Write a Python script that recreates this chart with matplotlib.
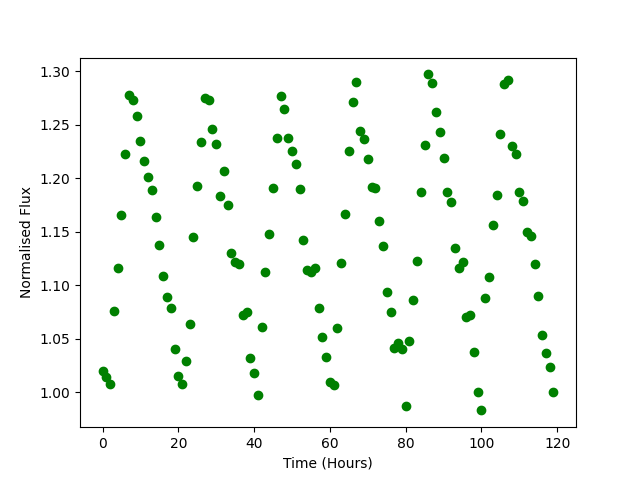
import matplotlib
matplotlib.use("Agg")
import matplotlib.pyplot as plt
import numpy as np

time_hours = np.arange(120)
flux = [
    1.020, 1.014, 1.008, 1.076, 1.116, 1.166, 1.223, 1.278, 1.273, 1.258,
    1.235, 1.216, 1.201, 1.189, 1.164, 1.138, 1.109, 1.089, 1.079, 1.040,
    1.015, 1.008, 1.029, 1.064, 1.145, 1.193, 1.234, 1.275, 1.273, 1.246,
    1.232, 1.183, 1.207, 1.175, 1.130, 1.122, 1.120, 1.072, 1.075, 1.032,
    1.018, 0.997, 1.061, 1.112, 1.148, 1.191, 1.238, 1.277, 1.265, 1.238,
    1.225, 1.213, 1.190, 1.142, 1.114, 1.112, 1.116, 1.079, 1.052, 1.033,
    1.010, 1.007, 1.060, 1.121, 1.167, 1.225, 1.271, 1.290, 1.244, 1.237,
    1.218, 1.192, 1.191, 1.160, 1.137, 1.094, 1.075, 1.041, 1.046, 1.040,
    0.987, 1.048, 1.086, 1.123, 1.187, 1.231, 1.297, 1.289, 1.262, 1.243,
    1.219, 1.187, 1.178, 1.135, 1.116, 1.122, 1.070, 1.072, 1.038, 1.000,
    0.983, 1.088, 1.108, 1.156, 1.184, 1.241, 1.288, 1.292, 1.230, 1.223,
    1.187, 1.179, 1.150, 1.146, 1.120, 1.090, 1.053, 1.037, 1.024, 1.000,
]

fig, ax = plt.subplots(figsize=(6.4, 4.8), dpi=100)
ax.plot(time_hours, flux, 'o', color='green')
ax.set_xlabel('Time (Hours)')
ax.set_ylabel('Normalised Flux')
fig.savefig('out.png', dpi=100)
